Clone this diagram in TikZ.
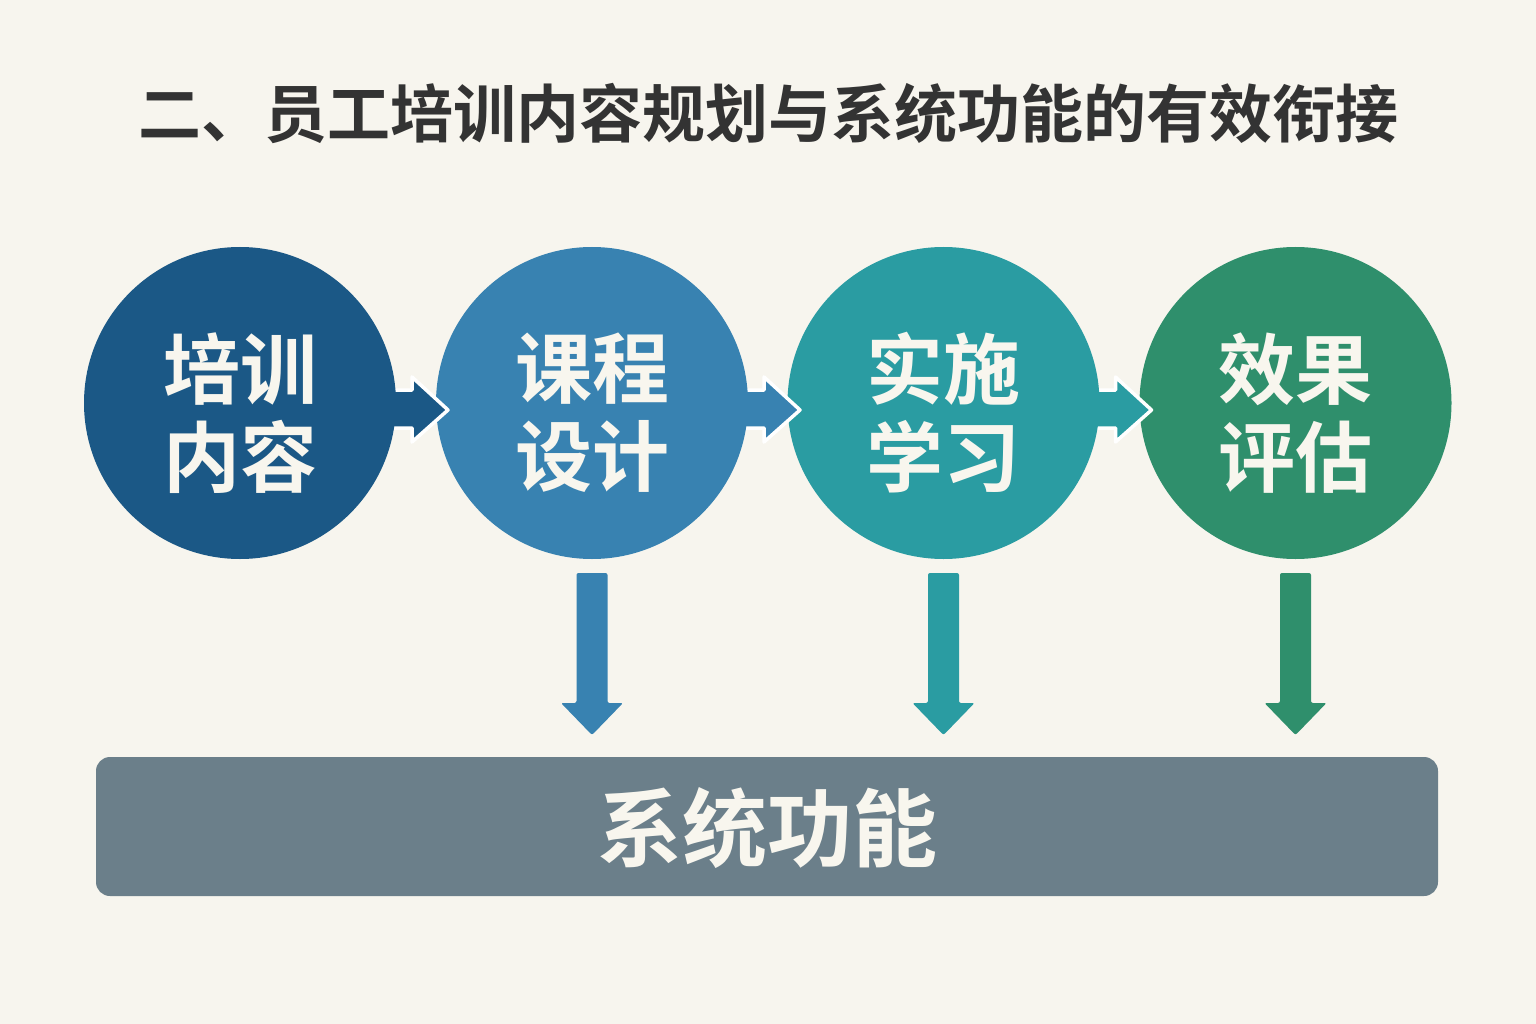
\documentclass[tikz,border=0pt]{standalone}
\usepackage{fontspec}
\newfontfamily\cjk{Noto Sans CJK SC Bold}
\definecolor{bg}{HTML}{F7F5EE}
\definecolor{cA}{HTML}{1B5886}
\definecolor{cB}{HTML}{3882B1}
\definecolor{cC}{HTML}{2A9CA2}
\definecolor{cD}{HTML}{2F8F6C}
\definecolor{barc}{HTML}{6B7F8A}
\definecolor{titlec}{HTML}{333333}
\definecolor{txtw}{HTML}{F8F6EE}
\tikzset{
  circ/.style={circle, minimum size=312pt, inner sep=0pt, draw=none},
  rarrow/.style={line width=3.5pt, draw=white, line join=round},
  darrow/.style={draw=none, rounded corners=2pt},
  ctext/.style={text=txtw, font=\cjk\fontsize{77}{88}\selectfont, align=center, inner sep=0pt},
}
\newcommand{\rightblock}[2]{%
  \begin{scope}[shift={(#1)}]
    \path[rarrow, fill=#2] (100,-13) -- (172,-13) -- (172,-26) -- (208,7) -- (172,39) -- (172,25) -- (100,25) -- cycle;
  \end{scope}}
\newcommand{\downblock}[2]{%
  \begin{scope}[shift={(#1)}]
    \path[darrow, fill=#2] (-15.5,170) -- (15.5,170) -- (15.5,300) -- (31,300) -- (0,332) -- (-31,300) -- (-15.5,300) -- cycle;
  \end{scope}}
\begin{document}
\begin{tikzpicture}[x=1pt,y=-1pt]
\useasboundingbox (0,0) rectangle (1536,1024);
\fill[bg] (0,0) rectangle (1536,1024);
\coordinate (p1) at (240,403);
\coordinate (p2) at (592,403);
\coordinate (p3) at (943.5,403);
\coordinate (p4) at (1295.5,403);
% title
\node[text=titlec, font=\cjk\fontsize{63}{70}\selectfont, inner sep=0pt] (title) at (768,113) {二、员工培训内容规划与系统功能的有效衔接};
% circles and connecting arrows
\node[circ, fill=cD] (c4) at (p4) {};
\rightblock{p3}{cC}
\node[circ, fill=cC] (c3) at (p3) {};
\rightblock{p2}{cB}
\node[circ, fill=cB] (c2) at (p2) {};
\rightblock{p1}{cA}
\node[circ, fill=cA] (c1) at (p1) {};
% texts
\node[ctext] (t1) at (240,413) {培训\\内容};
\node[ctext] (t2) at (592,413) {课程\\设计};
\node[ctext] (t3) at (943.5,413) {实施\\学习};
\node[ctext] (t4) at (1295.5,413) {效果\\评估};
% down arrows
\downblock{p2}{cB}
\downblock{p3}{cC}
\downblock{p4}{cD}
% bar
\node[fill=barc, rounded corners=14pt, minimum width=1342pt, minimum height=139pt, inner sep=0pt] (bar) at (767,826.5) {};
\node[text=txtw, font=\cjk\fontsize{85}{90}\selectfont, inner sep=0pt] (bartext) at (767,828) {系统功能};
\end{tikzpicture}
\end{document}
